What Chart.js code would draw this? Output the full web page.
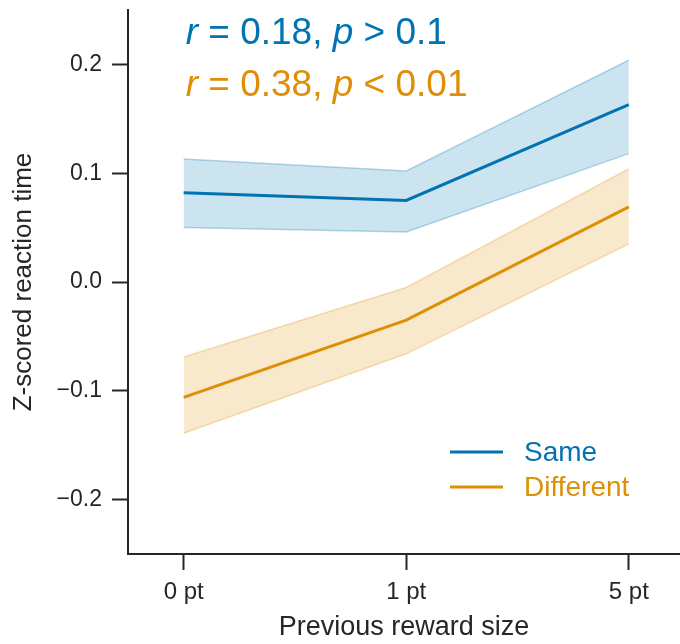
<!DOCTYPE html>
<html>
<head>
<meta charset="utf-8">
<script src="https://cdn.jsdelivr.net/npm/chart.js@4.4.0/dist/chart.umd.min.js"></script>
<style>
  html, body { margin: 0; padding: 0; background: #fff; }
  #wrap { width: 680px; height: 644px; position: relative; }
</style>
</head>
<body>
<div id="wrap"><canvas id="c"></canvas></div>
<script>
// --- data -------------------------------------------------------------------
var xPositions = [0, 1, 2];
var xLabels = ['0 pt', '1 pt', '5 pt'];
var yTicks = [-0.2, -0.1, 0.0, 0.1, 0.2];

var sameMean  = [0.082, 0.075, 0.163];
var sameUpper = [0.113, 0.102, 0.204];
var sameLower = [0.050, 0.046, 0.118];

var diffMean  = [-0.106, -0.035, 0.069];
var diffUpper = [-0.069, -0.005, 0.104];
var diffLower = [-0.139, -0.066, 0.035];

var seriesNames = ['Same', 'Different'];
// each stat line: [italic, normal, italic, normal]
var statSame = ['r', ' = 0.18, ', 'p', ' > 0.1'];
var statDiff = ['r', ' = 0.38, ', 'p', ' < 0.01'];

// --- styling -----------------------------------------------------------------
var C = {
  blue: '#0173b2',
  orange: '#de8f05',
  blueBand: 'rgba(1,115,178,0.2)',
  blueEdge: 'rgba(1,115,178,0.28)',
  orangeBand: 'rgba(222,143,5,0.2)',
  orangeEdge: 'rgba(222,143,5,0.28)',
  axis: '#262626',
  font: "'Liberation Sans', Arial, Helvetica, sans-serif"
};

function pts(ys) {
  return xPositions.map(function (x, i) { return { x: x, y: ys[i] }; });
}

function band(ys, edge, fillColor, fill) {
  return {
    data: pts(ys),
    borderColor: edge,
    borderWidth: 1.5,
    backgroundColor: fillColor,
    pointRadius: 0,
    tension: 0,
    fill: fill
  };
}

function mainLine(label, ys, color) {
  return {
    label: label,
    data: pts(ys),
    borderColor: color,
    backgroundColor: color,
    borderWidth: 3,
    pointRadius: 0,
    tension: 0,
    fill: false
  };
}

// stats text + legend drawn by hand
var annotations = {
  id: 'annotations',
  afterDatasetsDraw: function (chart) {
    var ctx = chart.ctx;
    var xs = chart.scales.x;
    var x0 = xs.getPixelForValue(0) + 2;

    function statLine(parts, color, baseline) {
      var x = x0;
      ctx.fillStyle = color;
      ctx.textBaseline = 'alphabetic';
      ctx.textAlign = 'left';
      parts.forEach(function (t, i) {
        ctx.font = (i % 2 === 0 ? 'italic ' : '') + '37px ' + C.font;
        ctx.fillText(t, x, baseline);
        x += ctx.measureText(t).width;
      });
    }

    ctx.save();
    statLine(statSame, C.blue, 44);
    statLine(statDiff, C.orange, 96);

    // legend
    var items = [[seriesNames[0], C.blue, 452], [seriesNames[1], C.orange, 487]];
    items.forEach(function (it) {
      ctx.strokeStyle = it[1];
      ctx.lineWidth = 3;
      ctx.beginPath();
      ctx.moveTo(450, it[2]);
      ctx.lineTo(503, it[2]);
      ctx.stroke();
      ctx.fillStyle = it[1];
      ctx.font = '28px ' + C.font;
      ctx.textBaseline = 'middle';
      ctx.fillText(it[0], 524, it[2] + 1);
    });
    ctx.restore();
  }
};

new Chart(document.getElementById('c'), {
  type: 'line',
  data: {
    datasets: [
      band(sameUpper, C.blueEdge, C.blueBand, '+1'),
      band(sameLower, C.blueEdge, C.blueBand, false),
      band(diffUpper, C.orangeEdge, C.orangeBand, '+1'),
      band(diffLower, C.orangeEdge, C.orangeBand, false),
      mainLine(seriesNames[0], sameMean, C.blue),
      mainLine(seriesNames[1], diffMean, C.orange)
    ]
  },
  options: {
    responsive: true,
    maintainAspectRatio: false,
    animation: false,
    layout: { padding: { top: 10, right: 0, left: 0, bottom: 0 } },
    plugins: {
      legend: { display: false },
      tooltip: { enabled: false }
    },
    scales: {
      x: {
        type: 'linear',
        min: -0.25,
        max: 2.23,
        afterBuildTicks: function (s) { s.ticks = xPositions.map(function (v) { return { value: v }; }); },
        afterFit: function (s) { s.height = 90; s.paddingLeft = 0; s.paddingRight = 0; },
        grid: { display: true, drawOnChartArea: false, drawTicks: true, tickLength: 16, tickWidth: 2, tickColor: C.axis },
        border: { display: true, color: C.axis, width: 2 },
        ticks: {
          color: C.axis,
          padding: 8,
          maxRotation: 0,
          font: { family: C.font, size: 24 },
          callback: function (v) { var i = xPositions.indexOf(v); return i < 0 ? '' : xLabels[i]; }
        },
        title: {
          display: true,
          text: 'Previous reward size',
          color: C.axis,
          padding: 0,
          font: { family: C.font, size: 27 }
        }
      },
      y: {
        min: -0.25,
        max: 0.25,
        afterBuildTicks: function (s) { s.ticks = yTicks.map(function (v) { return { value: v }; }); },
        afterFit: function (s) { s.width = 128; s.paddingTop = 0; s.paddingBottom = 0; },
        grid: { display: true, drawOnChartArea: false, drawTicks: true, tickLength: 16, tickWidth: 2, tickColor: C.axis },
        border: { display: true, color: C.axis, width: 2 },
        ticks: {
          color: C.axis,
          padding: 10,
          font: { family: C.font, size: 23 },
          callback: function (v) {
            var s = Math.abs(v).toFixed(1);
            return v < -1e-9 ? '\u2212' + s : s;
          }
        },
        title: {
          display: true,
          text: 'Z-scored reaction time',
          color: C.axis,
          padding: { top: 8, bottom: 0 },
          font: { family: C.font, size: 26 }
        }
      }
    }
  },
  plugins: [annotations]
});
</script>
</body>
</html>
